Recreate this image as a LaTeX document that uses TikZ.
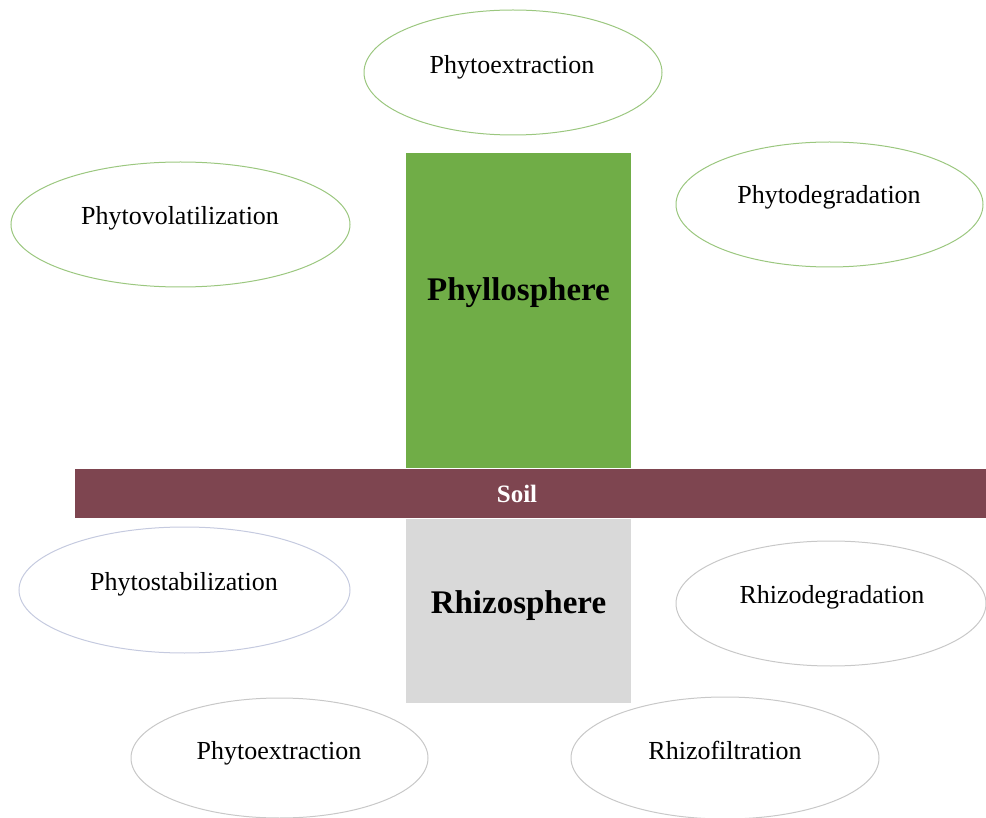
\documentclass[tikz,border=0pt]{standalone}
\usepackage{fontspec}
\setmainfont{Liberation Serif}
\usetikzlibrary{shapes.geometric}
\definecolor{leafgreen}{HTML}{70AD47}
\definecolor{soilred}{HTML}{7E4550}
\definecolor{rootgray}{HTML}{D9D9D9}
\definecolor{greenline}{HTML}{9BC77F}
\definecolor{blueline}{HTML}{C5CADF}
\definecolor{grayline}{HTML}{C8C8C8}
\tikzset{
  oval/.style={ellipse, draw, line width=1pt, inner sep=0pt},
  ovaltext/.style={font=\fontsize{26}{30}\selectfont, inner sep=0pt, text=black},
  bigtext/.style={font=\fontsize{33}{38}\selectfont\bfseries, inner sep=0pt, text=black},
}
\begin{document}
\begin{tikzpicture}[x=1pt,y=-1pt]
\useasboundingbox (0,0) rectangle (986,818);
% central blocks
\fill[leafgreen] (406,153) rectangle (631,468);
\node[bigtext] (phyllo) at (518.5,293) {Phyllosphere};
\fill[rootgray] (406,519) rectangle (631,703);
\node[bigtext] (rhizo) at (518.5,606) {Rhizosphere};
\fill[soilred] (75,469) rectangle (986,518);
\node[font=\fontsize{25}{30}\selectfont\bfseries, text=white, inner sep=0pt] (soil) at (517,494) {Soil};
% upper ellipses
\node[oval, draw=greenline, minimum width=298, minimum height=125] (o1) at (513,72.5) {};
\node[ovaltext] (t1) at (512,67) {Phytoextraction};
\node[oval, draw=greenline, minimum width=339, minimum height=125] (o2) at (180.5,224.5) {};
\node[ovaltext] (t2) at (180,218) {Phytovolatilization};
\node[oval, draw=greenline, minimum width=307, minimum height=125] (o3) at (829.5,204.5) {};
\node[ovaltext] (t3) at (829,197) {Phytodegradation};
% lower ellipses
\node[oval, draw=blueline, minimum width=331, minimum height=126] (o4) at (184.5,590) {};
\node[ovaltext] (t4) at (184,584) {Phytostabilization};
\node[oval, draw=grayline, minimum width=310, minimum height=125] (o5) at (831,603.5) {};
\node[ovaltext] (t5) at (832,597) {Rhizodegradation};
\node[oval, draw=grayline, minimum width=297, minimum height=120] (o6) at (279.5,758) {};
\node[ovaltext] (t6) at (279,753) {Phytoextraction};
\node[oval, draw=grayline, minimum width=308, minimum height=122] (o7) at (725,758) {};
\node[ovaltext] (t7) at (725,750) {Rhizofiltration};
\end{tikzpicture}
\end{document}
